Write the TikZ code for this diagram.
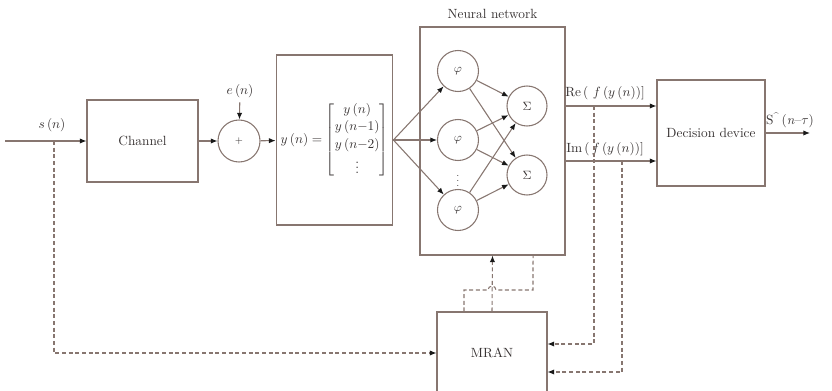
\documentclass[tikz,border=0pt]{standalone}
\usepackage{tikz}
\usetikzlibrary{positioning}
\usetikzlibrary{calc}
\usetikzlibrary{arrows.meta}
\usepackage{amsmath}
\definecolor{linec}{RGB}{135,118,112}
\definecolor{tipc}{RGB}{25,25,25}
\definecolor{textc}{RGB}{55,50,50}

\tikzset{
    wire/.style={draw=linec, line width=0.8pt},
    fb/.style={wire, dash pattern=on 3pt off 2pt},
    block/.style={draw=linec, line width=0.8pt, rectangle, text=textc},
    neuron/.style={draw=linec, line width=0.8pt, circle, minimum size=30.75pt, inner sep=0pt, text=textc, font=\small},
    lab/.style={text=textc}
}

\begin{document}
\begin{tikzpicture}[x=0.75pt, y=-0.75pt, >={Latex[length=5pt,width=4pt,color=tipc]}]
    \useasboundingbox (0,0) rectangle (832,391);
    \clip (0,0) rectangle (832,391);

    % blocks
    \node[block, minimum width=83.25pt, minimum height=61.5pt] (chan) at (142.5,141) {Channel};
    \node[neuron, minimum size=31.5pt, font=\scriptsize] (sum) at (239,141) {$+$};
    \node[block, minimum width=81.75pt, minimum height=127.5pt] (ybox) at (334.5,140)
        {\renewcommand{\arraystretch}{1.1}$y\,(n) = \begin{bmatrix} y\,(n)\\ y\,(n{-}1)\\ y\,(n{-}2)\\ \vdots \end{bmatrix}$};
    \node[block, minimum width=108.75pt, minimum height=171pt] (nn) at (492.5,141) {};
    \node[lab, above=2pt of nn] (nnlab) {Neural network};
    \node[block, minimum width=81pt, minimum height=79.5pt] (dec) at (711,133) {Decision device};
    \node[block, minimum width=82.5pt, minimum height=61.5pt] (mran) at (492,353) {MRAN};

    % hidden and output neurons
    \foreach \i/\y in {1/71,2/140,3/210} {
        \node[neuron] (phi\i) at (458,\y) {$\varphi$};
    }
    \node[lab, inner sep=0pt] (vdots) at (458,177) {\scriptsize $\vdots$};
    \foreach \j/\y in {1/106,2/175} {
        \node[neuron, minimum size=30pt] (sig\j) at (527,\y) {$\Sigma$};
    }

    % labels
    \node[lab] (slab) at (52,125) {$s\,(n)$};
    \node[lab] (elab) at (240,91) {$e\,(n)$};
    \node[lab] (relab) at (605,93) {Re\,( $f$\,($y$\,($n$))]};
    \node[lab] (imlab) at (605,149) {Im\,(\,$f$\,($y$\,($n$))]};
    \node[lab] (outlab) at (790,120) {S\textsuperscript{\^{}}\,(\textit{n}--$\tau$)};

    \coordinate (src) at (5,141);
    \coordinate (stap) at (54,141);
    \coordinate (out) at (810,133);
    \coordinate (imo) at (565,161);
    \coordinate (retap) at (594,106);
    \coordinate (imtap) at (622,161);

    % forward path
    \draw[wire,->] (src) -- (chan);
    \draw[wire,->] (chan) -- (sum);
    \draw[wire,->] (elab) -- (sum);
    \draw[wire,->] (sum) -- (ybox);
    \foreach \i in {1,2,3} {
        \draw[wire,->] (ybox.east) -- (phi\i);
        \foreach \j in {1,2}
            \draw[wire,->] (phi\i) -- (sig\j);
    }
    \draw[wire,->] (nn.east |- sig1) -- (dec.west |- sig1);
    \draw[wire,->] (nn.east |- imo) -- (dec.west |- imo);
    \draw[wire,->] (dec) -- (out);

    % training paths
    \draw[fb,->] (stap) |- (mran.west);
    \draw[fb,->] (retap) |- ([yshift=6.75pt]mran.east);
    \draw[fb,->] (imtap) |- ([yshift=-14.25pt]mran.east);
    \draw[fb,->] (mran.north) -- (nn.south);
    \draw[fb] ([xshift=-21pt]mran.north) |- (488,290)
        arc[start angle=180, end angle=360, radius=4] -- (533,290) -- ([xshift=30.4pt]nn.south);
\end{tikzpicture}
\end{document}
